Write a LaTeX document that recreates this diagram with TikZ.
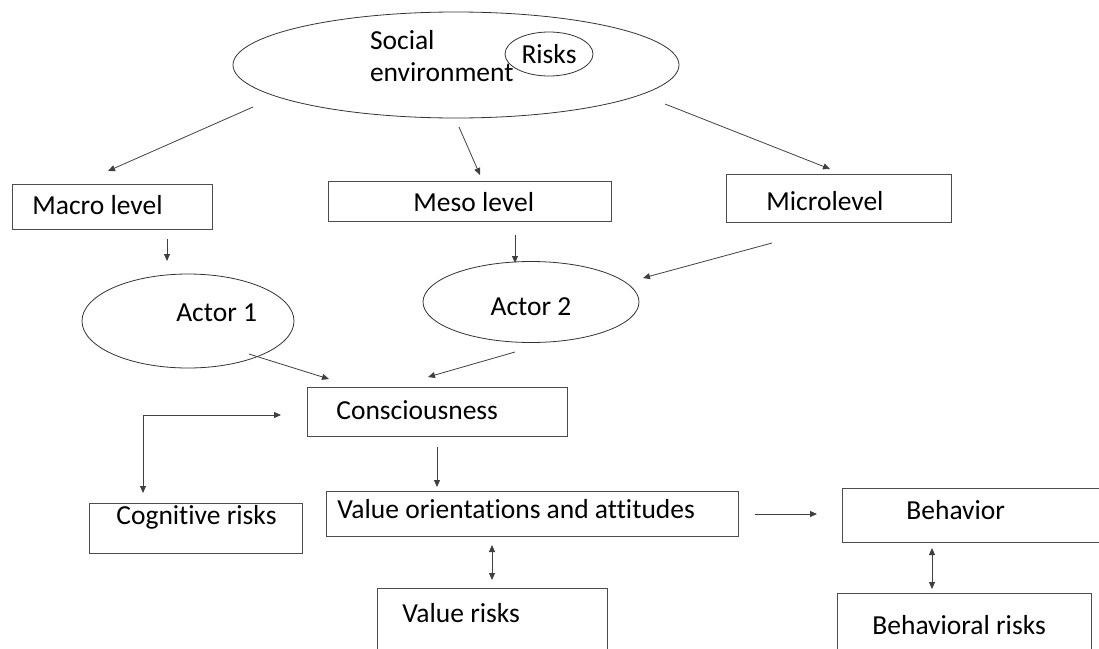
\documentclass[tikz,border=0pt]{standalone}
\usepackage{fontspec}
\setmainfont{Carlito}[Ligatures=NoCommon]
\usetikzlibrary{arrows.meta,positioning,shapes}

\begin{document}
\begin{tikzpicture}[x=1pt, y=-1pt, line width=0.8pt, >={Triangle[length=7pt,width=6pt]},
box node/.style={rectangle,draw=black!70,anchor=north west,inner sep=0pt,align=flush left},
oval node/.style={ellipse,draw=black!80,inner sep=0pt}]
\clip (0,0) rectangle (1099,648);
\begin{scope}[every node/.style={font=\fontsize{27.5}{32}\selectfont}]
\node[oval node,minimum width=446pt,minimum height=106pt,text width=172pt,align=flush left,text height=18pt,text depth=50pt] (env) at (456,65) {Social\\environment};
\node[oval node,minimum width=88pt,minimum height=44pt] (risks) at (549,54) {Risks};
\node[box node,text width=200pt,text height=30pt,text depth=15pt] (macro) at (12,184) {\hspace*{20pt}Macro level};
\node[box node,text width=283pt,text height=30pt,text depth=10pt] (meso) at (328,181) {\hspace*{85pt}Meso level};
\node[box node,text width=225pt,text height=36pt,text depth=12pt] (micro) at (726,174) {\hspace*{40pt}Microlevel};
\node[oval node,minimum width=212pt,minimum height=94pt,text width=138pt,align=flush right,text height=20pt,text depth=20pt] (actor1) at (188,321) {Actor 1};
\node[oval node,minimum width=216pt,minimum height=81pt,text height=28pt,text depth=2pt] (actor2) at (531,302) {Actor 2};
\node[box node,text width=260pt,text height=32pt,text depth=17pt] (consc) at (307,387) {\hspace*{29pt}Consciousness};
\node[box node,text width=213pt,text height=21pt,text depth=29pt] (cogn) at (89,503) {\hspace*{27pt}Cognitive risks};
\node[box node,text width=412pt,text height=27pt,text depth=18pt] (value) at (326,491) {\hspace*{11pt}Value orientations and attitudes};
\node[box node,text width=230pt,text height=34pt,text depth=38pt] (valrisk) at (377,588) {\hspace*{25pt}Value risks};
\node[box node,text width=268pt,text height=31pt,text depth=23pt] (behav) at (842,488) {\hspace*{64pt}Behavior};
\node[box node,text width=254pt,text height=41pt,text depth=26pt] (behrisk) at (837,593) {\hspace*{35pt}Behavioral risks};
\end{scope}
% loose arrow ends
\coordinate (env-a) at (253,107);   \coordinate (macro-a) at (108,171);
\coordinate (env-b) at (459,127);   \coordinate (meso-a) at (480,175);
\coordinate (env-c) at (665,104);   \coordinate (micro-a) at (830,169);
\coordinate (macro-b) at (167,239); \coordinate (actor1-a) at (167,261);
\coordinate (meso-b) at (515,235);  \coordinate (actor2-a) at (515,263);
\coordinate (micro-b) at (772,243); \coordinate (actor2-b) at (643,278);
\coordinate (actor1-b) at (249,354); \coordinate (consc-a) at (329,379);
\coordinate (actor2-c) at (515,352); \coordinate (consc-b) at (428,377);
\coordinate (consc-c) at (281,415); \coordinate (cogn-a) at (143,493);
\coordinate (consc-d) at (437,447); \coordinate (value-a) at (437,487);
\coordinate (value-b) at (492,545); \coordinate (valrisk-a) at (492,580);
\coordinate (value-c) at (755,514); \coordinate (behav-a) at (817,514);
\coordinate (behav-b) at (932,548); \coordinate (behrisk-a) at (932,589);
\begin{scope}[draw=black!75]
\draw[->] (env-a) -- (macro-a);
\draw[->] (env-b) -- (meso-a);
\draw[->] (env-c) -- (micro-a);
\draw[->] (macro-b) -- (actor1-a);
\draw[->] (meso-b) -- (actor2-a);
\draw[->] (micro-b) -- (actor2-b);
\draw[->] (actor1-b) -- (consc-a);
\draw[->] (actor2-c) -- (consc-b);
\draw[<->] (consc-c) -| (cogn-a);
\draw[->] (consc-d) -- (value-a);
\draw[<->] (value-b) -- (valrisk-a);
\draw[->] (value-c) -- (behav-a);
\draw[<->] (behav-b) -- (behrisk-a);
\end{scope}
\end{tikzpicture}
\end{document}
